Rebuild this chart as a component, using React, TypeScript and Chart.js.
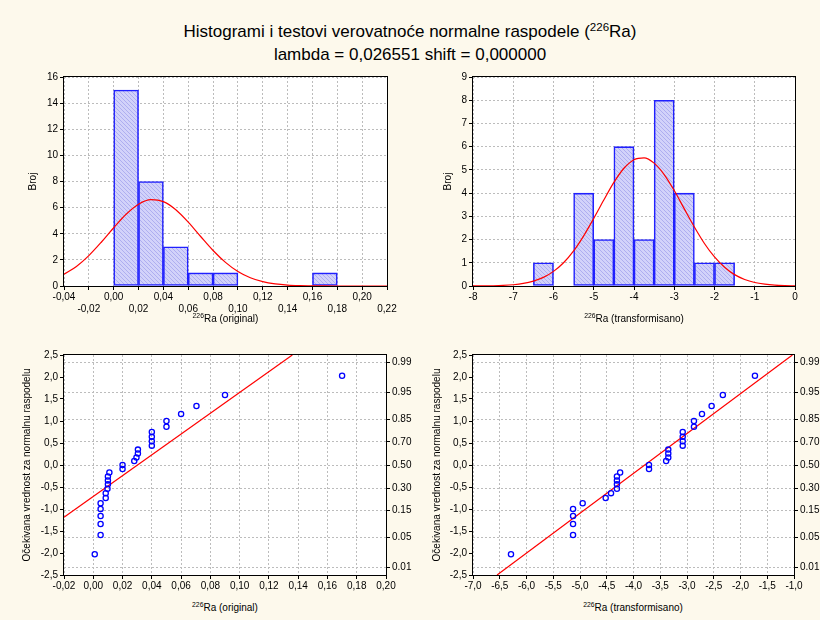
import React, { useEffect, useRef } from 'react';
import { Chart, registerables } from 'chart.js';
Chart.register(...registerables);

// ---------- DATA ----------
const histOrigCenters = [0.01, 0.03, 0.05, 0.07, 0.09, 0.17];
const histOrigCounts = [15, 8, 3, 1, 1, 1];
const curveOrigX = [-0.04, -0.03, -0.02, -0.01, 0, 0.01, 0.02, 0.03, 0.04, 0.05, 0.06, 0.07, 0.08, 0.09, 0.1, 0.11, 0.12, 0.13, 0.14, 0.15, 0.16, 0.17, 0.18, 0.19, 0.2, 0.21, 0.22];
const curveOrigY = [0.9, 1.5, 2.33, 3.35, 4.46, 5.49, 6.26, 6.61, 6.46, 5.84, 4.89, 3.79, 2.72, 1.81, 1.11, 0.63, 0.33, 0.16, 0.07, 0.03, 0.012, 0.004, 0.001, 0, 0, 0, 0];

const histTransCenters = [-6.25, -5.25, -4.75, -4.25, -3.75, -3.25, -2.75, -2.25, -1.75];
const histTransCounts = [1, 4, 2, 6, 2, 8, 4, 1, 1];
const curveTransX = [-8, -7.75, -7.5, -7.25, -7, -6.75, -6.5, -6.25, -6, -5.75, -5.5, -5.25, -5, -4.75, -4.5, -4.25, -4, -3.75, -3.5, -3.25, -3, -2.75, -2.5, -2.25, -2, -1.75, -1.5, -1.25, -1, -0.75, -0.5, -0.25, 0];
const curveTransY = [0.002, 0.005, 0.011, 0.026, 0.055, 0.11, 0.21, 0.37, 0.63, 1.0, 1.51, 2.16, 2.91, 3.7, 4.46, 5.07, 5.44, 5.52, 5.29, 4.8, 4.11, 3.32, 2.54, 1.83, 1.25, 0.81, 0.49, 0.28, 0.15, 0.079, 0.038, 0.018, 0.008];

const qqOrigX = [0.001, 0.005, 0.005, 0.005, 0.005, 0.005, 0.0085, 0.0085, 0.0097, 0.01, 0.01, 0.01, 0.011, 0.02, 0.02, 0.028, 0.0295, 0.0305, 0.0305, 0.04, 0.04, 0.04, 0.04, 0.05, 0.05, 0.06, 0.0705, 0.09, 0.17];
const qqTransX = [-6.29, -5.13, -5.13, -5.13, -5.13, -4.95, -4.52, -4.42, -4.31, -4.31, -4.31, -4.31, -4.25, -3.71, -3.71, -3.39, -3.35, -3.35, -3.35, -3.08, -3.08, -3.08, -3.08, -2.87, -2.87, -2.72, -2.54, -2.33, -1.73];
const normScores = [-2.03, -1.59, -1.34, -1.16, -1.0, -0.87, -0.75, -0.64, -0.54, -0.44, -0.35, -0.26, -0.17, -0.09, 0.0, 0.09, 0.17, 0.26, 0.35, 0.44, 0.54, 0.64, 0.75, 0.87, 1.0, 1.16, 1.34, 1.59, 2.03];

const fitOrigX = [-0.02, 0.136];
const fitOrigY = [-1.19, 2.5];
const fitTransX = [-6.55, -1.03];
const fitTransY = [-2.5, 2.5];

const probTicks = [-2.326, -1.645, -1.036, -0.524, 0, 0.524, 1.036, 1.645, 2.326];
const probLabels = ['0.01', '0.05', '0.15', '0.30', '0.50', '0.70', '0.85', '0.95', '0.99'];

const FONT = "'Liberation Sans', Arial, sans-serif";

// ---------- HELPERS ----------
const fmt = (v: number, d: number) => {
  const s = Math.abs(v) < 1e-9 ? (0).toFixed(d) : v.toFixed(d);
  return s.replace('.', ',');
};
const pts = (xs: number[], ys: number[]) => xs.map((x, i) => ({ x, y: ys[i] }));

function makeHatch(): any {
  const c = document.createElement('canvas');
  c.width = 4;
  c.height = 4;
  const g = c.getContext('2d')!;
  g.fillStyle = '#d2d2fa';
  g.fillRect(0, 0, 4, 4);
  g.strokeStyle = '#aeaef0';
  g.lineWidth = 1;
  g.beginPath();
  g.moveTo(0, 0); g.lineTo(4, 4);
  g.moveTo(-1, 3); g.lineTo(1, 5);
  g.moveTo(3, -1); g.lineTo(5, 1);
  g.stroke();
  return g.createPattern(c, 'repeat');
}

const framePlugin = {
  id: 'frame',
  beforeDraw(chart: any) {
    const { ctx, chartArea: a } = chart;
    ctx.save();
    ctx.fillStyle = '#ffffff';
    ctx.fillRect(a.left, a.top, a.right - a.left, a.bottom - a.top);
    ctx.restore();
  },
  afterDraw(chart: any) {
    const { ctx, chartArea: a } = chart;
    ctx.save();
    ctx.strokeStyle = '#000000';
    ctx.lineWidth = 1;
    ctx.strokeRect(a.left - 0.5, a.top - 0.5, a.right - a.left + 1, a.bottom - a.top + 1);
    ctx.restore();
  },
};

type Panel = { left: number; top: number; w: number; h: number; pl: number; pt: number; pr: number; pb: number };
const panels: Panel[] = [
  { left: 0, top: 60, w: 410, h: 270, pl: 64, pt: 17, pr: 387, pb: 226 },
  { left: 410, top: 60, w: 410, h: 270, pl: 63, pt: 17, pr: 385, pb: 226 },
  { left: 0, top: 335, w: 420, h: 265, pl: 64, pt: 20, pr: 386, pb: 240 },
  { left: 410, top: 335, w: 410, h: 265, pl: 63, pt: 20, pr: 384, pb: 240 },
];

const gridOpts = (onArea: boolean) => ({
  display: true,
  drawOnChartArea: onArea,
  drawTicks: true,
  tickLength: 4,
  color: '#bcbcbc',
  tickColor: '#000000',
  tickBorderDash: [],
  lineWidth: 1,
});
const borderOpts = { display: false, dash: [2, 2] };
const tickFont = { family: FONT, size: 10 };

function histConfig(p: Panel, centers: number[], counts: number[], cx: number[], cy: number[], xr: [number, number, number], yr: [number, number, number], twoRow: boolean, titlePad: number, hatch: any) {
  return {
    type: 'bar',
    data: {
      datasets: [
        {
          type: 'line',
          data: pts(cx, cy),
          borderColor: '#ff0000',
          borderWidth: 1.2,
          pointRadius: 0,
          cubicInterpolationMode: 'monotone',
          order: 0,
        },
        {
          type: 'bar',
          data: pts(centers, counts),
          backgroundColor: hatch,
          borderColor: '#2020ff',
          borderWidth: 1.6,
          borderSkipped: false,
          barPercentage: 1,
          categoryPercentage: 1,
          order: 1,
        },
      ],
    },
    options: {
      animation: false,
      responsive: false,
      events: [],
      plugins: { legend: { display: false }, tooltip: { enabled: false } },
      layout: { padding: { top: p.pt, right: p.w - p.pr, left: 0, bottom: 0 } },
      scales: {
        x: {
          type: 'linear',
          offset: false,
          min: xr[0],
          max: xr[1],
          grid: { ...gridOpts(true), offset: false },
          border: borderOpts,
          ticks: {
            stepSize: xr[2],
            autoSkip: false,
            maxRotation: 0,
            padding: 1,
            color: '#000',
            font: tickFont,
            callback: (v: number, i: number) => {
              if (twoRow) {
                const s = fmt(v, 2);
                return i % 2 === 0 ? s : ['', s];
              }
              return fmt(v, 0);
            },
          },
          afterFit: (s: any) => { s.height = p.h - p.pb; },
        },
        y: {
          type: 'linear',
          min: yr[0],
          max: yr[1],
          grid: gridOpts(true),
          border: borderOpts,
          ticks: { stepSize: yr[2], autoSkip: false, padding: 2, color: '#000', font: tickFont, callback: (v: number) => fmt(v, 0) },
          title: { display: true, text: 'Broj', color: '#000', font: { family: FONT, size: 10 }, padding: { top: titlePad, bottom: 0 } },
          afterFit: (s: any) => { s.width = p.pl; },
        },
      },
    },
    plugins: [framePlugin],
  };
}

function qqConfig(p: Panel, xs: number[], fx: number[], fy: number[], xr: [number, number, number], dec: number, titlePad: number) {
  return {
    type: 'scatter',
    data: {
      datasets: [
        {
          type: 'line',
          data: pts(fx, fy),
          borderColor: '#ff0000',
          borderWidth: 1.2,
          pointRadius: 0,
          order: 1,
        },
        {
          type: 'scatter',
          data: pts(xs, normScores),
          pointRadius: 2.6,
          pointBorderWidth: 1.3,
          pointBorderColor: '#0000ff',
          pointBackgroundColor: 'rgba(0,0,0,0)',
          borderColor: '#0000ff',
          backgroundColor: 'rgba(0,0,0,0)',
          order: 0,
        },
      ],
    },
    options: {
      animation: false,
      responsive: false,
      events: [],
      plugins: { legend: { display: false }, tooltip: { enabled: false } },
      layout: { padding: { top: p.pt, right: 0, left: 0, bottom: 0 } },
      scales: {
        x: {
          type: 'linear',
          min: xr[0],
          max: xr[1],
          grid: gridOpts(true),
          border: borderOpts,
          ticks: { stepSize: xr[2], autoSkip: false, maxRotation: 0, padding: 1, color: '#000', font: tickFont, callback: (v: number) => fmt(v, dec) },
          afterFit: (s: any) => { s.height = p.h - p.pb; },
        },
        y: {
          type: 'linear',
          min: -2.5,
          max: 2.5,
          grid: gridOpts(false),
          border: borderOpts,
          ticks: { stepSize: 0.5, autoSkip: false, padding: 2, color: '#000', font: tickFont, callback: (v: number) => fmt(v, 1) },
          title: { display: true, text: 'Očekivana vrednost za normalnu raspodelu', color: '#000', font: { family: FONT, size: 10 }, padding: { top: titlePad, bottom: 0 } },
          afterFit: (s: any) => { s.width = p.pl; },
        },
        y2: {
          type: 'linear',
          position: 'right',
          min: -2.5,
          max: 2.5,
          grid: gridOpts(true),
          border: borderOpts,
          afterBuildTicks: (s: any) => { s.ticks = probTicks.map((v) => ({ value: v })); },
          ticks: { autoSkip: false, padding: 2, color: '#000', font: tickFont, callback: (_v: number, i: number) => probLabels[i] },
          afterFit: (s: any) => { s.width = p.w - p.pr; },
        },
      },
    },
    plugins: [framePlugin],
  };
}

const Sup = ({ children }: { children: React.ReactNode }) => (
  <span style={{ fontSize: '0.68em', position: 'relative', top: '-0.55em' }}>{children}</span>
);

export default function App() {
  const r0 = useRef<HTMLCanvasElement>(null);
  const r1 = useRef<HTMLCanvasElement>(null);
  const r2 = useRef<HTMLCanvasElement>(null);
  const r3 = useRef<HTMLCanvasElement>(null);
  const refs = [r0, r1, r2, r3];

  useEffect(() => {
    const hatch = makeHatch();
    const configs: any[] = [
      histConfig(panels[0], histOrigCenters, histOrigCounts, curveOrigX, curveOrigY, [-0.04, 0.22, 0.02], [0, 16, 2], true, 27, hatch),
      histConfig(panels[1], histTransCenters, histTransCounts, curveTransX, curveTransY, [-8, 0, 1], [0, 9, 1], false, 32, hatch),
      qqConfig(panels[2], qqOrigX, fitOrigX, fitOrigY, [-0.02, 0.2, 0.02], 2, 21),
      qqConfig(panels[3], qqTransX, fitTransX, fitTransY, [-7, -1, 0.5], 1, 21),
    ];
    const charts = configs.map((cfg, i) => new Chart(refs[i].current as HTMLCanvasElement, cfg));
    return () => charts.forEach((c) => c.destroy());
  }, []);

  const axisTitle = (cx: number, top: number, text: string) => (
    <div style={{ position: 'absolute', left: cx - 100, top, width: 200, textAlign: 'center', fontFamily: FONT, fontSize: 10, lineHeight: '12px', color: '#000', whiteSpace: 'nowrap' }}>
      <Sup>226</Sup>Ra ({text})
    </div>
  );

  return (
    <div style={{ position: 'fixed', left: 0, top: 0, width: 820, height: 620, background: '#fdf9ec', overflow: 'hidden' }}>
      <div style={{ position: 'absolute', left: 0, top: 21, width: 820, textAlign: 'center', fontFamily: FONT, fontSize: 17, lineHeight: '22px', color: '#000' }}>
        <div>Histogrami i testovi verovatnoće normalne raspodele (<Sup>226</Sup>Ra)</div>
        <div>lambda = 0,026551 shift = 0,000000</div>
      </div>
      {panels.map((p, i) => (
        <canvas key={i} ref={refs[i]} width={p.w} height={p.h} style={{ position: 'absolute', left: p.left, top: p.top, width: p.w, height: p.h }} />
      ))}
      {axisTitle(225.5, 313, 'original')}
      {axisTitle(634, 313, 'transformisano')}
      {axisTitle(225, 602, 'original')}
      {axisTitle(633, 602, 'transformisano')}
    </div>
  );
}
